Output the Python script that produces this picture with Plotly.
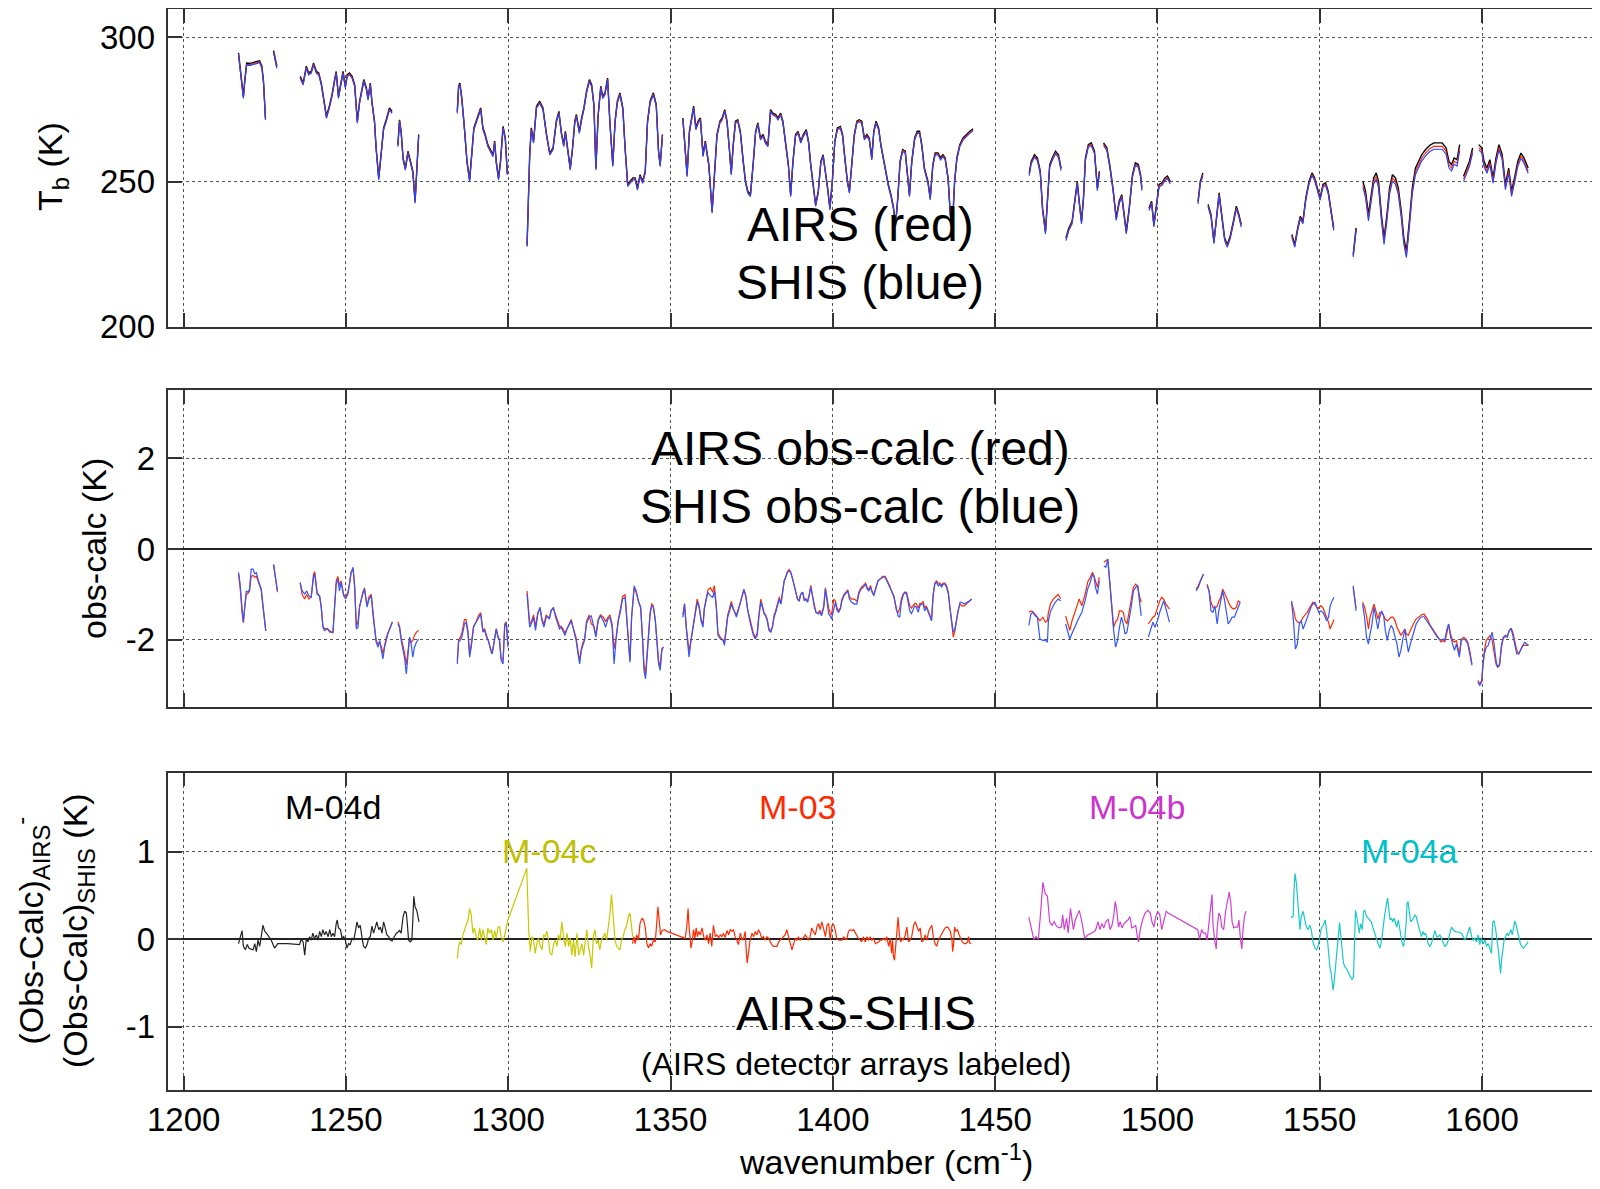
import plotly.graph_objects as go

# ---------------- DATA ----------------
tb_calc_pts = [
    (1216.9, 294.6), (1218.4, 279.6), (1218.8, 284.8), (1219.4, 291.1), (1220.5, 291.0), (1221.8, 291.5),
    (1223.4, 291.9), (1224.1, 290.0), (1224.6, 284.8), (1225.2, 272.1), None,
    (1227.7, 295.4), (1228.7, 290.0), None,
    (1235.9, 286.5), (1236.8, 284.2), (1237.8, 290.0), (1238.5, 287.7), (1239.3, 288.2), (1240.0, 291.1),
    (1240.9, 288.2), (1241.6, 287.7), (1242.4, 284.2), (1243.2, 279.0), (1244.0, 272.7), (1245.0, 276.7),
    (1245.7, 280.2), (1246.5, 285.4), (1247.0, 288.2), (1247.7, 279.6), (1248.6, 286.0), (1249.1, 288.2),
    (1249.8, 283.1), (1250.4, 287.1), (1251.1, 287.7), (1251.9, 286.5), (1252.7, 283.6), (1253.5, 271.0),
    (1254.2, 277.9), (1254.9, 282.5), (1255.5, 285.4), (1256.3, 282.5), (1256.8, 279.0), (1257.5, 284.2),
    (1258.0, 277.9), (1258.8, 271.0), (1259.3, 261.8), (1260.1, 251.4), (1260.9, 261.8), (1261.6, 268.7),
    (1262.4, 271.5), (1262.9, 273.3), (1263.4, 275.6), (1264.2, 274.4), None,
    (1266.0, 262.9), (1266.5, 271.5), (1267.0, 267.5), (1267.6, 258.3), (1268.3, 254.8), (1269.1, 260.6),
    (1269.9, 257.1), (1270.6, 253.7), (1271.3, 243.3), (1271.9, 254.8), (1272.4, 266.4), None,
    (1284.3, 274.4), (1284.7, 283.1), (1285.1, 284.2), (1285.7, 279.0), (1286.5, 268.7), (1287.3, 257.1),
    (1288.1, 250.8), (1288.8, 259.4), (1289.4, 268.7), (1290.1, 271.0), (1290.9, 273.3), (1291.5, 275.6),
    (1292.2, 268.7), (1292.9, 266.4), (1293.7, 262.9), (1294.6, 260.6), (1295.3, 259.4), (1295.8, 264.1),
    (1296.3, 257.1), (1297.0, 251.4), (1297.6, 257.1), (1298.4, 269.2), (1299.1, 265.2), (1299.7, 253.1), None,
    (1305.8, 228.3), (1306.0, 237.6), (1306.6, 259.4), (1307.1, 268.7), (1307.8, 264.1), (1308.7, 276.2),
    (1309.7, 277.9), (1310.7, 275.6), (1311.8, 266.4), (1312.8, 260.0), (1313.8, 261.8), (1314.8, 271.0),
    (1315.6, 274.4), (1316.4, 266.9), (1317.1, 262.9), (1317.6, 267.5), (1318.5, 260.6), (1319.1, 254.8),
    (1319.8, 261.8), (1320.5, 271.0), (1321.0, 273.3), (1321.9, 267.5), (1322.6, 272.1), (1323.3, 275.6),
    (1324.1, 281.3), (1325.0, 285.4), (1325.7, 283.6), (1326.4, 276.7), (1327.0, 254.8), (1327.7, 273.3),
    (1328.5, 283.1), (1329.1, 279.6), (1329.8, 280.8), (1330.6, 285.9), (1331.3, 271.0), (1332.2, 256.0),
    (1332.9, 271.0), (1333.6, 277.9), (1334.4, 280.8), (1335.3, 275.6), (1336.0, 261.8), (1336.8, 249.1),
    (1337.5, 250.2), (1338.4, 251.4), (1339.1, 251.4), (1339.8, 247.9), (1340.6, 252.5), (1341.4, 250.2),
    (1342.2, 253.7), (1342.9, 271.0), (1343.7, 277.9), (1344.7, 280.8), (1345.6, 276.7), (1346.3, 260.6),
    (1346.8, 256.0), (1347.5, 266.4), None,
    (1353.8, 272.1), (1354.5, 259.4), (1355.1, 252.5), (1355.8, 267.5), (1356.6, 272.7), (1357.1, 276.2),
    (1357.8, 268.7), (1358.5, 271.0), (1359.2, 272.1), (1360.0, 259.4), (1360.7, 264.1), (1361.8, 256.0),
    (1362.8, 239.9), (1363.5, 253.7), (1364.3, 266.4), (1365.2, 271.0), (1365.9, 272.1), (1366.7, 275.0),
    (1367.4, 271.0), (1368.1, 261.8), (1368.7, 253.1), (1369.3, 262.9), (1370.0, 271.0), (1370.7, 271.5),
    (1371.5, 267.5), (1372.4, 257.1), (1373.1, 250.2), (1373.8, 246.8), (1374.6, 245.6), (1375.5, 257.1),
    (1376.2, 267.5), (1376.9, 270.4), (1377.7, 265.2), (1378.5, 266.4), (1379.2, 264.1), (1380.0, 262.9),
    (1380.8, 275.0), (1381.5, 273.8), (1382.4, 273.3), (1383.1, 272.1), (1383.9, 273.8), (1384.6, 271.0),
    (1385.5, 262.9), (1386.3, 256.0), (1387.0, 245.6), (1387.7, 257.1), (1388.5, 266.4), (1389.3, 267.5),
    (1390.1, 264.1), (1390.9, 266.4), (1391.8, 268.1), (1392.5, 264.1), (1393.2, 256.0), (1394.0, 247.9),
    (1394.7, 242.2), (1395.5, 246.8), (1396.3, 257.1), (1397.0, 259.4), (1397.6, 254.8), (1398.4, 247.9),
    (1399.1, 241.0), (1399.9, 251.4), (1400.6, 264.1), (1401.4, 268.7), (1402.3, 269.2), (1403.0, 266.4),
    (1403.7, 258.3), (1404.5, 250.2), (1405.1, 246.8), (1405.8, 257.1), (1406.6, 266.4), (1407.4, 271.0),
    (1408.1, 271.5), (1408.9, 271.0), (1409.7, 265.2), (1410.5, 266.4), (1411.2, 265.2), (1412.0, 258.3),
    (1412.6, 267.5), (1413.3, 271.0), (1414.1, 268.7), (1414.8, 262.9), (1415.7, 257.1), (1416.4, 252.5),
    (1417.1, 249.1), (1417.9, 245.6), (1418.7, 241.0), (1419.3, 235.3), (1420.0, 244.5), (1420.7, 257.1),
    (1421.5, 261.2), (1422.3, 260.6), (1422.9, 253.7), (1423.6, 245.6), (1424.3, 257.1), (1425.2, 265.2),
    (1426.0, 267.5), (1426.7, 267.5), (1427.4, 262.9), (1428.2, 254.8), (1429.3, 250.2), (1430.0, 244.5),
    (1430.8, 256.0), (1431.5, 260.0), (1432.4, 260.0), (1433.2, 258.3), (1433.9, 259.4), (1434.6, 258.3),
    (1435.5, 251.4), (1436.2, 238.7), (1436.8, 234.1), (1437.5, 250.2), (1438.2, 258.3), (1439.1, 262.9),
    (1440.1, 265.2), (1441.1, 266.4), (1442.2, 267.5), (1443.2, 268.4), None,
    (1460.5, 253.1), (1461.1, 257.1), (1462.1, 259.4), (1463.0, 258.3), (1463.9, 253.7), (1464.6, 241.0),
    (1465.5, 232.9), (1466.1, 243.3), (1466.8, 256.0), (1467.6, 258.3), (1468.6, 260.6), (1469.5, 259.4),
    (1470.3, 254.8), None,
    (1471.8, 230.6), (1472.7, 234.1), (1473.7, 236.4), (1474.6, 243.3), (1475.3, 250.2), (1475.9, 243.3),
    (1476.6, 236.4), (1477.2, 244.5), (1477.8, 258.3), (1478.7, 262.9), (1479.6, 263.5), (1480.6, 260.6),
    (1481.5, 247.9), (1482.1, 253.7), None,
    (1483.4, 263.5), (1484.4, 261.8), (1485.3, 256.0), (1486.3, 247.9), (1487.3, 237.6), (1488.2, 243.3),
    (1489.0, 245.6), (1489.8, 237.6), (1490.4, 232.9), (1491.3, 241.0), (1492.3, 252.5), (1493.2, 256.6),
    (1494.1, 256.0), (1494.8, 252.5), (1495.2, 247.9), None,
    (1497.4, 241.0), (1498.2, 243.3), (1498.9, 235.3), (1499.7, 243.3), (1500.5, 249.1), (1501.4, 249.7),
    (1502.3, 251.4), (1503.1, 252.0), (1503.9, 250.2), None,
    (1512.5, 243.3), (1513.2, 250.2), (1514.0, 253.1), None,
    (1515.6, 242.2), (1516.5, 238.7), (1517.4, 229.5), (1518.3, 239.9), (1519.0, 246.2), (1519.8, 238.7),
    (1520.7, 230.6), (1521.5, 228.3), (1522.4, 231.2), (1523.4, 236.4), (1524.3, 241.6), (1525.1, 238.7),
    (1525.8, 235.3), None,
    (1541.4, 231.8), (1542.3, 228.3), (1543.2, 234.1), (1544.0, 238.1), (1544.8, 236.4), (1545.7, 244.5),
    (1546.7, 250.2), (1547.6, 253.1), (1548.4, 251.4), (1549.2, 247.9), (1550.1, 244.5), (1551.0, 249.1),
    (1551.8, 249.7), (1552.6, 246.8), (1553.4, 239.9), (1554.3, 234.1), None,
    (1560.3, 224.9), (1561.2, 234.1), None,
    (1563.3, 250.2), (1564.1, 246.8), (1565.0, 238.7), (1565.9, 245.6), (1566.6, 251.4), (1567.4, 253.1),
    (1568.1, 250.2), (1569.0, 238.7), (1569.8, 230.6), (1570.7, 238.7), (1571.5, 247.9), (1572.4, 252.5),
    (1573.3, 251.4), (1574.2, 247.9), (1575.1, 239.9), (1575.9, 230.6), (1576.7, 226.0), (1577.6, 236.4),
    (1578.5, 247.9), (1579.5, 254.8), (1580.5, 257.1), (1581.4, 259.4), (1582.6, 261.2), (1583.9, 262.7),
    (1585.2, 263.5), (1586.4, 263.5), (1587.7, 263.5), (1588.9, 261.8), (1589.8, 257.1), (1590.6, 256.0),
    (1591.4, 258.3), (1592.3, 257.7), (1593.1, 262.9), None,
    (1594.3, 252.0), (1595.2, 254.8), (1596.1, 257.1), (1597.1, 261.8), None,
    (1599.0, 262.9), (1599.9, 261.8), (1600.6, 257.1), (1601.5, 254.8), (1602.4, 257.7), (1603.4, 251.4),
    (1604.3, 258.3), (1605.2, 262.9), (1606.2, 259.4), (1607.2, 249.1), (1608.2, 254.8), (1609.1, 246.8),
    (1610.0, 251.4), (1611.0, 257.1), (1612.0, 260.0), (1612.9, 258.3), (1614.2, 254.8),
]
tb_airs_offset = [-0.4, -0.4, -0.4, -0.4, -0.4, -0.4, -0.4, -0.5, -0.5, -0.5, -0.5, -0.5, -0.5, -0.5, -0.5, -1.2, -1.0, -1.0]
tb_shis_offset = [-0.7, -0.7, -0.7, -0.7, -0.7, -0.7, -0.7, -0.9, -0.9, -0.9, -0.9, -0.9, -0.9, -0.9, -0.9, -2.2, -1.8, -1.8]

omc_pts = [
    (1216.9, -0.51, -0.55), (1217.4, -0.77, -0.85), (1218.0, -1.32, -1.40), (1218.4, -1.61, -1.62),
    (1218.8, -1.28, -1.30), (1219.3, -0.92, -1.00), (1219.8, -0.95, -0.98), (1220.3, -0.88, -0.92),
    (1220.8, -0.44, -0.60), (1221.4, -0.44, -0.58), (1221.9, -0.55, -0.62), (1222.4, -0.51, -0.60),
    (1222.9, -0.66, -0.70), (1223.4, -0.77, -0.80), (1223.9, -0.88, -0.90), (1224.4, -1.21, -1.25),
    (1224.9, -1.58, -1.60), (1225.3, -1.80, -1.80), None,
    (1227.7, -0.33, -0.35), (1228.2, -0.55, -0.58), (1228.9, -0.92, -0.95), None,
    (1235.9, -0.73, -0.75), (1236.5, -0.92, -1.00), (1237.3, -0.99, -1.10), (1237.9, -0.92, -1.00),
    (1238.6, -1.03, -1.10), (1239.3, -1.06, -1.05), (1240.0, -0.62, -0.55), (1240.4, -0.55, -0.50),
    (1241.1, -0.99, -0.95), (1241.9, -1.03, -1.05), (1242.4, -1.28, -1.30), (1242.9, -1.72, -1.70),
    (1243.4, -1.79, -1.75), (1244.3, -1.76, -1.75), (1245.0, -1.83, -1.80), (1246.0, -1.83, -1.85),
    (1246.5, -1.28, -1.25), (1247.0, -0.77, -0.70), (1247.5, -0.66, -0.60), (1248.0, -0.92, -0.80),
    (1248.5, -0.73, -0.70), (1249.3, -1.03, -1.00), (1249.9, -1.10, -1.05), (1250.6, -0.99, -0.95),
    (1251.1, -0.77, -0.75), (1251.6, -0.51, -0.50), (1252.2, -0.40, -0.45), (1252.7, -0.84, -0.85),
    (1253.2, -1.76, -1.70), (1253.7, -1.72, -1.60), (1254.2, -1.28, -1.25), (1254.7, -1.10, -1.10),
    (1255.2, -0.95, -0.95), (1255.7, -0.88, -0.85), (1256.5, -1.28, -1.25), (1257.1, -1.10, -1.05),
    (1257.8, -1.03, -1.00), (1258.3, -1.43, -1.40), (1258.8, -1.72, -1.70), (1259.3, -2.05, -2.00),
    (1259.9, -2.16, -2.10), (1260.4, -2.01, -2.05), (1260.9, -2.23, -2.15), (1261.4, -2.42, -2.30),
    (1261.9, -2.16, -2.10), (1262.4, -1.98, -1.95), (1262.9, -1.87, -1.85), (1263.7, -1.72, -1.70),
    (1264.3, -1.61, -1.60), None,
    (1266.0, -1.65, -1.60), (1266.5, -1.72, -1.70), (1267.0, -2.01, -1.95), (1267.6, -2.23, -2.15),
    (1268.1, -2.42, -2.30), (1268.6, -2.75, -2.55), (1269.1, -2.31, -2.25), (1269.6, -1.94, -1.95),
    (1270.1, -2.09, -2.05), (1270.6, -2.38, -2.01), (1271.1, -2.16, -1.90), (1271.7, -2.05, -1.83),
    (1272.4, -1.98, -1.79), None,
    (1284.3, -2.53, -2.45), (1284.7, -2.05, -2.00), (1285.2, -2.01, -1.95), (1285.7, -1.94, -1.85),
    (1286.5, -1.65, -1.55), (1287.0, -1.61, -1.55), (1287.6, -1.87, -1.80), (1288.1, -2.38, -2.30),
    (1288.6, -2.16, -2.10), (1289.3, -1.72, -1.70), (1290.1, -1.61, -1.60), (1290.9, -1.50, -1.45),
    (1291.5, -1.43, -1.40), (1292.2, -1.83, -1.80), (1292.7, -1.79, -1.75), (1293.3, -1.94, -1.90),
    (1293.9, -2.01, -2.00), (1294.6, -2.23, -2.20), (1295.0, -2.31, -2.30), (1295.6, -2.09, -2.05),
    (1296.3, -1.76, -1.75), (1296.8, -1.94, -1.90), (1297.3, -2.01, -2.00), (1297.8, -2.45, -2.40),
    (1298.4, -2.53, -2.45), (1298.9, -1.72, -1.65), (1299.4, -1.61, -1.60), (1299.9, -2.16, -2.10), None,
    (1305.8, -0.99, -0.92), (1306.2, -1.43, -1.40), (1306.6, -1.72, -1.65), (1307.1, -1.65, -1.60),
    (1307.8, -1.50, -1.45), (1308.4, -1.79, -1.70), (1309.1, -1.43, -1.40), (1309.8, -1.28, -1.30),
    (1310.4, -1.58, -1.55), (1311.0, -1.72, -1.65), (1311.7, -1.50, -1.45), (1312.2, -1.50, -1.50),
    (1312.7, -1.54, -1.50), (1313.2, -1.36, -1.35), (1313.9, -1.28, -1.30), (1314.6, -1.50, -1.45),
    (1315.1, -1.61, -1.55), (1315.8, -1.76, -1.70), (1316.3, -1.72, -1.70), (1316.8, -1.79, -1.75),
    (1317.5, -1.90, -1.85), (1318.1, -1.76, -1.75), (1318.7, -1.68, -1.65), (1319.4, -1.58, -1.55),
    (1319.9, -1.72, -1.70), (1320.4, -1.87, -1.85), (1320.9, -2.01, -1.95), (1321.5, -2.31, -2.25),
    (1322.0, -2.53, -2.45), (1322.5, -2.23, -2.20), (1323.0, -2.09, -2.05), (1323.5, -2.01, -2.00),
    (1324.1, -1.65, -1.60), (1324.9, -1.50, -1.45), (1325.6, -1.47, -1.65), (1326.4, -1.72, -1.70),
    (1327.0, -1.94, -1.90), (1327.7, -1.58, -1.55), (1328.4, -1.47, -1.45), (1329.3, -1.58, -1.50),
    (1330.0, -1.72, -1.60), (1330.7, -1.54, -1.50), (1331.3, -1.50, -1.45), (1332.0, -1.72, -1.65),
    (1332.6, -2.53, -2.20), (1333.2, -2.01, -1.95), (1333.9, -1.58, -1.55), (1334.6, -1.36, -1.30),
    (1335.2, -1.10, -1.05), (1336.0, -1.06, -1.00), (1336.5, -1.65, -1.60), (1337.0, -2.01, -2.00),
    (1337.5, -2.49, -2.45), (1338.0, -1.50, -1.50), (1338.8, -0.81, -0.85), (1339.4, -0.92, -0.95),
    (1340.1, -1.14, -1.15), (1340.8, -1.28, -1.30), (1341.4, -2.01, -2.00), (1341.8, -2.67, -2.55),
    (1342.3, -2.86, -2.75), (1342.7, -2.45, -2.40), (1343.2, -1.87, -1.85), (1343.7, -1.43, -1.40),
    (1344.2, -1.25, -1.20), (1344.7, -1.28, -1.25), (1345.3, -1.58, -1.55), (1345.8, -2.01, -2.00),
    (1346.3, -2.53, -2.45), (1346.8, -2.67, -2.60), (1347.3, -2.23, -2.20), (1347.8, -2.16, -2.15), None,
    (1353.8, -1.50, -1.45), (1354.3, -1.21, -1.20), (1354.9, -1.79, -1.75), (1355.3, -2.16, -2.05),
    (1355.7, -2.38, -2.25), (1356.3, -2.01, -2.00), (1356.9, -1.72, -1.70), (1357.6, -1.43, -1.40),
    (1358.2, -1.17, -1.10), (1358.8, -1.28, -1.25), (1359.4, -1.58, -1.55), (1360.0, -1.72, -1.65),
    (1360.4, -1.32, -1.30), (1361.5, -0.95, -0.90), (1362.3, -1.03, -0.85), (1363.0, -1.06, -0.95),
    (1363.5, -0.92, -0.80), (1364.1, -1.28, -1.25), (1364.6, -1.90, -1.85), (1365.4, -1.98, -1.95),
    (1366.2, -2.01, -2.00), (1366.6, -2.12, -2.05), (1367.1, -1.72, -1.70), (1367.6, -1.50, -1.45),
    (1368.2, -1.36, -1.30), (1368.7, -1.21, -1.15), (1369.3, -1.32, -1.30), (1369.8, -1.39, -1.40),
    (1370.3, -1.50, -1.45), (1370.8, -1.36, -1.35), (1371.4, -1.21, -1.20), (1372.0, -1.03, -1.05),
    (1372.6, -0.88, -0.90), (1373.2, -1.03, -1.05), (1373.8, -1.36, -1.35), (1374.5, -1.61, -1.55),
    (1375.0, -1.76, -1.70), (1375.5, -1.90, -1.85), (1376.1, -1.98, -1.95), (1376.7, -1.90, -1.85),
    (1377.2, -1.50, -1.45), (1377.8, -1.17, -1.10), (1378.3, -1.28, -1.25), (1378.8, -1.43, -1.40),
    (1379.3, -1.47, -1.45), (1379.8, -1.58, -1.55), (1380.3, -1.79, -1.75), (1380.9, -1.83, -1.80),
    (1381.4, -1.72, -1.70), (1381.9, -1.50, -1.45), (1382.4, -1.39, -1.35), (1382.9, -1.28, -1.20),
    (1383.5, -1.10, -1.05), (1384.0, -1.21, -1.20), (1384.5, -0.92, -0.90), (1385.0, -0.70, -0.70),
    (1385.5, -0.62, -0.60), (1386.0, -0.51, -0.50), (1386.5, -0.48, -0.45), (1387.0, -0.51, -0.50),
    (1387.6, -0.66, -0.65), (1388.1, -0.81, -0.80), (1388.6, -0.92, -0.90), (1389.1, -1.10, -1.10),
    (1389.6, -1.14, -1.15), (1390.1, -0.99, -1.00), (1390.7, -0.95, -0.95), (1391.2, -1.14, -1.10),
    (1391.7, -1.10, -1.10), (1392.2, -1.17, -1.15), (1392.7, -1.03, -1.00), (1393.2, -0.84, -0.80),
    (1393.8, -1.06, -1.05), (1394.3, -1.28, -1.25), (1394.8, -1.39, -1.40), (1395.5, -1.43, -1.40),
    (1396.1, -1.39, -1.35), (1396.5, -1.47, -1.45), (1397.2, -1.28, -1.25), (1397.7, -0.88, -0.85),
    (1398.2, -1.14, -1.10), (1398.7, -1.43, -1.30), (1399.2, -1.47, -1.40), (1399.6, -1.54, -1.45),
    (1400.3, -1.32, -1.10), (1400.8, -1.17, -1.15), (1401.3, -1.36, -1.30), (1401.8, -1.39, -1.35),
    (1402.3, -1.32, -1.30), (1402.8, -1.14, -1.10), (1403.4, -1.03, -1.00), (1404.1, -0.95, -0.95),
    (1404.6, -0.92, -0.90), (1405.1, -1.10, -1.05), (1405.8, -1.17, -1.10), (1406.7, -1.21, -1.10),
    (1407.4, -1.21, -1.15), (1408.0, -0.99, -0.95), (1408.7, -0.88, -0.85), (1409.4, -0.84, -0.80),
    (1410.1, -0.77, -0.75), (1410.6, -0.88, -0.85), (1411.1, -0.92, -0.90), (1411.6, -0.84, -0.80),
    (1412.1, -0.95, -0.95), (1412.6, -1.03, -1.00), (1413.2, -0.88, -0.85), (1413.9, -0.70, -0.70),
    (1414.6, -0.66, -0.65), (1415.4, -0.62, -0.60), (1416.1, -0.62, -0.60), (1416.8, -0.73, -0.70),
    (1417.5, -0.81, -0.80), (1418.2, -0.95, -0.95), (1418.8, -1.03, -1.05), (1419.6, -1.32, -1.35),
    (1420.1, -1.47, -1.40), (1420.6, -1.50, -1.30), (1421.1, -1.17, -1.10), (1421.6, -1.03, -1.00),
    (1422.1, -0.95, -0.95), (1422.7, -0.99, -0.95), (1423.2, -1.17, -1.10), (1423.7, -1.36, -1.25),
    (1424.2, -1.43, -1.30), (1424.7, -1.32, -1.25), (1425.2, -1.25, -1.20), (1425.7, -1.28, -1.20),
    (1426.3, -1.39, -1.30), (1426.8, -1.25, -1.20), (1427.3, -1.21, -1.20), (1427.8, -1.21, -1.15),
    (1428.3, -1.36, -1.30), (1428.8, -1.28, -1.25), (1429.4, -1.39, -1.35), (1429.9, -1.50, -1.45),
    (1430.4, -1.58, -1.55), (1430.9, -1.03, -1.00), (1431.4, -0.77, -0.75), (1431.9, -0.73, -0.70),
    (1432.5, -0.81, -0.75), (1433.0, -0.77, -0.75), (1433.5, -0.84, -0.80), (1434.0, -0.77, -0.75),
    (1434.5, -0.77, -0.75), (1435.0, -0.84, -0.80), (1435.6, -0.99, -0.95), (1436.1, -1.32, -1.30),
    (1436.6, -1.58, -1.60), (1437.1, -1.83, -1.94), (1437.6, -1.76, -1.80), (1438.1, -1.54, -1.55),
    (1438.6, -1.36, -1.35), (1439.2, -1.17, -1.20), (1439.7, -1.17, -1.25), (1440.5, -1.21, -1.25),
    (1441.2, -1.17, -1.20), (1442.0, -1.14, -1.15), (1442.8, -1.10, -1.10), None,
    (1460.4, -1.68, -1.39), (1461.0, -1.43, -1.36), (1461.6, -1.39, -1.38), (1462.3, -1.47, -1.43),
    (1463.0, -1.50, -1.50), (1463.8, -1.98, -1.58), (1464.7, -2.01, -1.50), (1465.5, -2.01, -1.61),
    (1466.1, -2.05, -1.58), (1466.4, -1.58, -1.40), (1467.1, -1.36, -1.20), (1467.9, -1.25, -1.10),
    (1468.5, -1.17, -1.06), (1469.4, -1.10, -1.00), (1470.2, -1.14, -1.10), None,
    (1471.7, -1.65, -1.47), (1472.3, -1.79, -1.65), (1473.0, -1.98, -1.79), (1473.6, -1.87, -1.60),
    (1474.4, -1.72, -1.40), (1475.2, -1.61, -1.25), (1475.9, -1.50, -1.10), (1476.7, -1.39, -1.25),
    (1477.7, -1.14, -1.00), (1478.5, -0.88, -0.73), (1479.3, -0.73, -0.62), (1480.0, -0.55, -0.51),
    (1480.5, -0.62, -0.60), (1480.9, -0.84, -0.70), (1481.5, -0.99, -0.84), (1482.1, -0.70, -0.62), None,
    (1483.5, -0.37, -0.29), (1484.1, -0.40, -0.26), (1484.7, -0.22, -0.22), (1485.2, -0.70, -0.62),
    (1485.9, -1.28, -1.28), (1486.5, -1.79, -1.72), (1487.1, -2.16, -1.60), (1487.7, -2.01, -1.55),
    (1488.3, -1.72, -1.36), (1488.9, -1.50, -1.36), (1489.5, -1.65, -1.40), (1490.0, -1.87, -1.58),
    (1490.6, -1.83, -1.65), (1491.1, -1.65, -1.43), (1491.9, -1.28, -1.10), (1492.6, -0.92, -0.84),
    (1493.3, -0.84, -0.77), (1493.9, -0.81, -0.81), (1494.5, -1.14, -1.05), (1495.0, -1.47, -1.17), None,
    (1497.2, -1.94, -1.65), (1498.0, -1.76, -1.55), (1498.6, -1.61, -1.50), (1499.2, -1.72, -1.47),
    (1500.0, -1.58, -1.28), (1500.7, -1.39, -1.14), (1501.3, -1.25, -1.06), (1501.9, -1.14, -1.10),
    (1502.5, -1.28, -1.20), (1503.1, -1.43, -1.25), (1503.7, -1.61, -1.32), None,
    (1511.9, -0.92, -0.88), (1512.6, -0.84, -0.80), (1513.3, -0.70, -0.68), (1514.2, -0.55, -0.55), None,
    (1515.3, -0.81, -0.77), (1515.9, -0.92, -0.92), (1516.5, -1.36, -1.17), (1517.1, -1.39, -1.28),
    (1517.7, -1.25, -1.30), (1518.4, -1.65, -1.26), (1518.9, -1.36, -1.15), (1519.5, -1.10, -1.06),
    (1520.1, -0.92, -0.88), (1520.7, -1.14, -0.98), (1521.3, -1.43, -1.10), (1521.8, -1.65, -1.15),
    (1522.4, -1.58, -1.25), (1523.0, -1.50, -1.30), (1523.7, -1.50, -1.32), (1524.3, -1.39, -1.28),
    (1524.9, -1.28, -1.14), (1525.5, -1.17, -1.17), None,
    (1541.3, -1.14, -1.17), (1541.9, -1.58, -1.32), (1542.5, -2.20, -1.54), (1543.1, -2.09, -1.60),
    (1543.7, -1.65, -1.62), (1544.3, -1.58, -1.58), (1544.9, -1.76, -1.50), (1545.6, -1.61, -1.43),
    (1546.2, -1.47, -1.39), (1546.8, -1.39, -1.30), (1547.3, -1.28, -1.25), (1547.9, -1.21, -1.17),
    (1548.5, -1.17, -1.22), (1549.1, -1.28, -1.28), (1549.7, -1.39, -1.30), (1550.3, -1.36, -1.25),
    (1550.9, -1.39, -1.28), (1551.5, -1.47, -1.39), (1552.1, -1.58, -1.54), (1552.7, -1.50, -1.61),
    (1553.2, -1.25, -1.76), (1553.8, -1.14, -1.65), (1554.4, -1.06, -1.55), None,
    (1560.3, -0.81, -0.85), (1560.8, -1.14, -1.17), (1561.2, -1.36, -1.30), None,
    (1563.2, -1.21, -1.17), (1563.8, -1.50, -1.28), (1564.4, -1.94, -1.47), (1565.0, -2.09, -1.76),
    (1565.5, -1.87, -1.50), (1566.1, -1.65, -1.36), (1566.7, -1.28, -1.21), (1567.3, -1.50, -1.36),
    (1567.9, -1.76, -1.54), (1568.5, -1.50, -1.39), (1569.1, -1.36, -1.39), (1569.7, -1.47, -1.47),
    (1570.2, -1.79, -1.54), (1570.8, -2.01, -1.58), (1571.4, -1.79, -1.54), (1572.0, -1.68, -1.50),
    (1572.6, -1.76, -1.50), (1573.2, -1.94, -1.58), (1573.8, -2.09, -1.72), (1574.4, -2.38, -1.83),
    (1575.0, -2.23, -1.90), (1575.6, -1.98, -1.83), (1576.2, -1.76, -1.76), (1576.7, -2.01, -1.87),
    (1577.3, -2.27, -1.90), (1577.9, -2.09, -1.79), (1578.5, -1.94, -1.68), (1579.1, -1.76, -1.61),
    (1579.7, -1.65, -1.54), (1580.3, -1.58, -1.50), (1580.9, -1.52, -1.47), (1581.5, -1.49, -1.44),
    (1582.1, -1.49, -1.43), (1582.6, -1.54, -1.47), (1583.2, -1.61, -1.54), (1583.8, -1.68, -1.65),
    (1584.4, -1.76, -1.72), (1585.0, -1.83, -1.79), (1585.6, -1.90, -1.87), (1586.2, -1.94, -1.94),
    (1586.8, -1.98, -2.01), (1587.4, -2.01, -2.05), (1588.0, -1.98, -2.01), (1588.5, -2.01, -2.05),
    (1589.1, -1.79, -1.87), (1589.7, -1.65, -1.65), (1590.3, -1.94, -1.87), (1590.9, -2.09, -2.01),
    (1591.5, -2.23, -2.05), (1592.1, -2.09, -2.01), (1592.7, -2.31, -2.23), (1593.0, -2.38, -2.31),
    (1593.6, -2.01, -1.98), (1594.4, -1.98, -1.94), (1595.0, -2.01, -1.98), (1595.6, -2.09, -2.05),
    (1596.2, -2.31, -2.23), (1596.9, -2.56, -2.53), None,
    (1598.7, -2.93, -2.89), (1599.3, -3.00, -2.97), (1599.9, -2.93, -2.89), (1600.2, -2.60, -2.60),
    (1600.7, -2.31, -2.23), (1601.3, -2.16, -2.01), (1601.9, -2.12, -1.94), (1602.5, -1.94, -1.90),
    (1603.1, -1.83, -2.01), (1603.7, -2.09, -2.31), (1604.3, -2.45, -2.53), (1604.8, -2.60, -2.60),
    (1605.4, -2.53, -2.56), (1606.0, -2.09, -2.16), (1606.6, -1.94, -1.94), (1607.2, -1.90, -1.94),
    (1607.8, -1.94, -1.90), (1608.4, -1.79, -1.79), (1609.0, -1.76, -1.74), (1609.6, -1.94, -1.87),
    (1610.2, -2.16, -2.09), (1610.7, -2.31, -2.23), (1611.3, -2.31, -2.31), (1611.9, -2.23, -2.20),
    (1612.5, -2.16, -2.12), (1613.1, -2.05, -2.12), (1613.7, -2.09, -2.12), (1614.3, -2.12, -2.12),
]

m04d_pts = [
    (1216.9, -0.05), (1217.4, 0.01), (1218.0, 0.10), (1218.4, -0.08), (1219.0, -0.12), (1219.6, -0.06),
    (1220.1, -0.10), (1220.6, -0.11), (1221.4, -0.12), (1221.9, -0.05), (1222.4, -0.14), (1222.9, -0.01),
    (1223.4, -0.08), (1223.9, 0.03), (1224.4, 0.16), (1225.0, 0.09), (1225.5, 0.07), (1227.0, -0.01),
    (1228.0, -0.10), (1229.0, -0.05), (1232.1, -0.05), (1235.7, -0.06), (1236.2, 0.00), (1236.8, -0.03),
    (1237.3, -0.18), (1237.8, 0.01), (1238.3, -0.03), (1238.8, 0.03), (1239.3, -0.01), (1239.8, 0.07),
    (1240.3, 0.01), (1240.9, 0.05), (1241.4, -0.01), (1241.9, 0.09), (1242.4, 0.03), (1242.9, 0.11),
    (1243.4, 0.05), (1243.9, 0.09), (1244.5, 0.03), (1245.0, 0.11), (1245.5, 0.03), (1246.0, 0.07),
    (1246.5, 0.03), (1247.0, 0.18), (1247.3, 0.22), (1247.7, 0.13), (1248.3, 0.11), (1248.8, 0.01),
    (1249.3, 0.03), (1249.8, -0.01), (1250.3, -0.10), (1250.8, -0.05), (1251.3, -0.06), (1251.9, 0.01),
    (1252.4, -0.01), (1252.9, 0.09), (1253.4, 0.20), (1253.9, 0.13), (1254.4, 0.16), (1254.9, 0.03),
    (1255.4, -0.08), (1256.0, -0.10), (1256.5, -0.06), (1257.0, 0.01), (1257.5, 0.03), (1258.0, 0.15),
    (1258.5, 0.07), (1259.0, 0.13), (1259.5, 0.20), (1260.1, 0.11), (1260.6, 0.14), (1261.1, 0.07),
    (1261.6, 0.20), (1262.1, 0.13), (1262.6, 0.05), (1263.2, 0.03), (1263.7, -0.01), (1264.2, -0.02),
    (1264.8, 0.02), (1265.5, 0.07), (1266.0, 0.08), (1266.5, 0.10), (1267.0, 0.07), (1267.6, 0.26),
    (1268.1, 0.32), (1268.6, 0.30), (1268.9, 0.18), (1269.3, -0.01), (1269.8, -0.03), (1270.3, -0.01),
    (1270.6, 0.22), (1270.9, 0.49), (1271.3, 0.37), (1271.8, 0.33), (1272.2, 0.26), (1272.5, 0.20),
]
m04c_pts = [
    (1284.3, -0.22), (1284.7, -0.08), (1285.1, -0.03), (1285.5, -0.06), (1286.0, 0.05), (1286.5, 0.11),
    (1287.1, 0.18), (1287.6, 0.22), (1288.1, 0.35), (1288.6, 0.28), (1289.1, 0.07), (1289.6, 0.13),
    (1290.1, 0.03), (1290.6, -0.01), (1291.2, 0.13), (1291.7, -0.01), (1292.2, 0.11), (1292.7, 0.03),
    (1293.2, -0.06), (1293.7, 0.13), (1294.2, 0.07), (1294.8, 0.11), (1295.3, -0.01), (1295.8, 0.10),
    (1296.3, 0.01), (1296.8, 0.13), (1297.3, 0.15), (1297.8, 0.03), (1298.4, -0.03), (1298.9, 0.05),
    (1299.4, 0.14), (1299.9, 0.22), (1305.7, 0.81), (1306.3, 0.11), (1306.8, -0.14), (1307.3, 0.03),
    (1307.8, -0.01), (1308.3, -0.16), (1308.8, -0.05), (1309.3, 0.01), (1309.9, -0.08), (1310.4, -0.12),
    (1310.9, 0.05), (1311.4, 0.03), (1311.9, 0.09), (1312.4, -0.01), (1312.9, -0.16), (1313.4, -0.18),
    (1314.0, -0.05), (1314.5, -0.01), (1315.0, -0.08), (1315.5, 0.05), (1316.0, -0.01), (1316.5, 0.20),
    (1317.1, 0.01), (1317.6, -0.08), (1318.1, 0.07), (1318.6, -0.08), (1319.1, 0.01), (1319.6, -0.18),
    (1320.1, -0.01), (1320.6, -0.20), (1321.2, 0.07), (1321.7, -0.18), (1322.2, -0.12), (1322.7, -0.05),
    (1323.2, -0.18), (1323.7, -0.01), (1324.2, 0.11), (1324.7, -0.08), (1325.3, -0.20), (1325.7, -0.33),
    (1326.2, 0.03), (1326.7, 0.11), (1327.2, -0.05), (1327.7, -0.01), (1328.2, -0.12), (1328.7, -0.01),
    (1329.3, 0.03), (1329.8, 0.07), (1330.3, -0.01), (1330.8, 0.14), (1331.3, 0.28), (1331.8, 0.51),
    (1332.4, 0.22), (1332.9, -0.01), (1333.4, -0.08), (1333.9, -0.10), (1334.4, -0.12), (1334.9, -0.01),
    (1335.4, 0.03), (1335.9, 0.11), (1336.5, 0.16), (1337.0, 0.26), (1337.5, 0.30), (1337.9, 0.18),
    (1338.3, 0.03),
]
m03_pts = [
    (1338.3, -0.05), (1338.7, 0.03), (1339.1, -0.05), (1339.6, 0.05), (1340.1, -0.01), (1340.6, 0.18),
    (1341.2, 0.24), (1341.7, 0.22), (1342.2, 0.14), (1342.7, -0.05), (1343.2, -0.10), (1343.7, -0.05),
    (1344.2, -0.08), (1344.7, -0.01), (1345.3, -0.03), (1345.7, 0.13), (1346.1, 0.37), (1346.5, 0.22),
    (1346.9, 0.05), (1347.4, 0.10), (1348.2, 0.11), (1348.9, 0.09), (1350.9, 0.06), (1353.0, 0.03),
    (1354.5, 0.01), (1355.0, 0.14), (1355.4, 0.35), (1355.7, 0.14), (1356.3, -0.10), (1356.7, -0.01),
    (1357.1, 0.11), (1357.5, 0.01), (1357.9, 0.13), (1358.3, 0.03), (1358.7, 0.09), (1359.2, 0.05),
    (1359.7, 0.13), (1360.2, 0.03), (1360.7, -0.01), (1361.2, 0.05), (1361.7, -0.05), (1362.2, 0.07),
    (1362.7, -0.08), (1363.2, 0.16), (1363.8, 0.03), (1364.3, 0.05), (1364.8, 0.02), (1365.3, 0.05),
    (1365.8, 0.03), (1366.3, 0.07), (1366.8, 0.02), (1367.4, 0.10), (1367.9, 0.05), (1368.4, 0.11),
    (1368.9, 0.09), (1369.4, 0.11), (1369.9, 0.03), (1370.4, -0.01), (1370.9, -0.06), (1371.5, 0.07),
    (1372.0, -0.01), (1372.5, 0.01), (1373.0, 0.09), (1373.3, -0.12), (1373.6, -0.27), (1374.0, -0.16),
    (1374.5, -0.01), (1375.1, 0.07), (1375.6, 0.03), (1376.1, 0.09), (1376.6, 0.05), (1377.1, 0.11),
    (1377.6, 0.07), (1378.1, 0.01), (1378.6, 0.03), (1379.1, -0.01), (1379.7, 0.03), (1380.2, 0.01),
    (1380.7, -0.03), (1381.2, -0.06), (1381.7, -0.08), (1382.2, -0.08), (1382.8, -0.08), (1383.3, -0.03),
    (1383.8, -0.01), (1384.3, 0.01), (1384.8, 0.03), (1385.3, 0.05), (1385.8, 0.11), (1386.3, 0.05),
    (1386.9, -0.05), (1387.4, -0.12), (1387.9, -0.05), (1388.4, 0.01), (1388.9, -0.01), (1389.4, 0.03),
    (1389.9, -0.01), (1390.5, 0.01), (1391.0, 0.02), (1391.5, 0.05), (1392.0, 0.01), (1392.5, -0.01),
    (1393.0, 0.03), (1393.5, 0.13), (1394.0, 0.09), (1394.6, 0.05), (1395.1, 0.14), (1395.6, 0.18),
    (1396.1, 0.11), (1396.6, 0.20), (1397.1, 0.13), (1397.7, 0.03), (1398.2, 0.16), (1398.7, 0.18),
    (1399.2, -0.01), (1399.7, 0.16), (1400.2, 0.17), (1400.7, 0.11), (1401.2, 0.01), (1401.8, -0.01),
    (1402.3, -0.01), (1402.8, -0.01), (1403.3, 0.03), (1403.8, 0.00), (1404.3, 0.00), (1404.8, 0.09),
    (1405.3, 0.11), (1405.9, 0.10), (1406.4, 0.11), (1406.9, 0.07), (1407.4, 0.03), (1407.9, 0.01),
    (1408.4, -0.01), (1408.9, -0.03), (1409.4, 0.03), (1410.0, -0.03), (1410.5, 0.03), (1411.0, -0.01),
    (1411.5, 0.03), (1412.0, -0.01), (1412.5, 0.01), (1413.1, -0.05), (1413.6, -0.04), (1414.1, -0.03),
    (1414.6, -0.01), (1415.1, -0.01), (1415.6, 0.01), (1416.1, -0.01), (1416.6, 0.03), (1417.2, -0.08),
    (1417.7, 0.01), (1418.1, -0.16), (1418.4, -0.01), (1418.7, -0.20), (1419.0, -0.24), (1419.4, -0.05),
    (1419.7, 0.14), (1420.1, 0.25), (1420.5, 0.05), (1420.9, -0.03), (1421.4, 0.01), (1421.8, -0.01),
    (1422.3, 0.05), (1422.8, 0.14), (1423.3, -0.03), (1423.8, -0.01), (1424.3, 0.03), (1424.9, 0.16),
    (1425.4, 0.20), (1425.9, 0.14), (1426.4, 0.09), (1426.9, 0.13), (1427.4, -0.03), (1427.9, -0.01),
    (1428.4, 0.05), (1429.0, -0.01), (1429.5, 0.09), (1430.0, 0.13), (1430.5, 0.16), (1431.0, 0.01),
    (1431.5, -0.05), (1432.0, -0.08), (1432.5, -0.01), (1433.1, 0.03), (1433.6, 0.07), (1434.1, 0.10),
    (1434.6, 0.13), (1435.1, 0.14), (1435.6, 0.13), (1436.2, 0.09), (1436.7, -0.01), (1436.9, -0.14),
    (1437.2, -0.05), (1437.5, 0.14), (1437.9, 0.09), (1438.4, 0.11), (1438.9, 0.05), (1439.4, 0.01),
    (1439.9, -0.03), (1440.5, -0.05), (1441.0, -0.05), (1441.5, -0.03), (1441.8, 0.03), (1442.1, -0.04),
    (1442.6, -0.05),
]
m04b_pts = [
    (1460.4, 0.25), (1461.1, 0.14), (1461.9, 0.00), (1462.6, 0.03), (1463.3, 0.00), (1464.0, 0.30),
    (1464.7, 0.65), (1465.4, 0.52), (1466.1, 0.49), (1466.8, 0.20), (1467.5, 0.16), (1468.2, 0.20),
    (1468.9, 0.15), (1469.7, 0.13), (1470.4, 0.14), (1470.8, 0.28), (1471.3, 0.11), (1472.0, 0.24),
    (1472.5, 0.07), (1473.2, 0.35), (1473.6, 0.26), (1474.1, 0.11), (1474.7, 0.22), (1475.3, 0.28),
    (1475.9, 0.33), (1476.5, 0.24), (1477.0, 0.11), (1477.6, 0.01), (1478.5, 0.05), (1479.7, 0.07),
    (1480.9, 0.10), (1481.7, 0.20), (1482.3, 0.11), (1482.9, 0.18), (1483.5, 0.13), (1484.1, 0.20),
    (1484.8, 0.23), (1485.4, 0.11), (1486.0, 0.16), (1486.5, 0.26), (1487.0, 0.43), (1487.4, 0.35),
    (1488.0, 0.14), (1488.5, 0.20), (1489.1, 0.13), (1489.7, 0.18), (1490.3, 0.20), (1490.9, 0.22),
    (1491.5, 0.26), (1492.1, 0.13), (1492.7, 0.14), (1493.3, 0.16), (1493.9, 0.01), (1494.2, -0.03),
    (1494.7, 0.11), (1495.4, 0.22), (1496.2, 0.30), (1497.0, 0.33), (1497.8, 0.30), (1498.3, 0.20),
    (1498.9, 0.14), (1499.5, 0.26), (1500.1, 0.32), (1500.7, 0.28), (1501.3, 0.11), (1502.0, 0.22),
    (1502.7, 0.32), (1503.3, 0.30), (1512.4, 0.11), (1513.0, 0.00), (1513.6, 0.11), (1514.2, 0.07),
    (1514.8, 0.07), (1515.3, -0.01), (1515.9, 0.20), (1516.4, 0.37), (1516.8, 0.51), (1517.1, 0.18),
    (1517.6, -0.01), (1518.1, -0.11), (1518.4, 0.13), (1518.9, 0.30), (1519.4, 0.26), (1519.8, 0.14),
    (1520.4, 0.11), (1521.0, 0.32), (1521.6, 0.45), (1522.1, 0.54), (1522.6, 0.41), (1523.0, 0.20),
    (1523.5, 0.13), (1524.1, 0.14), (1524.7, 0.14), (1525.1, 0.22), (1525.6, -0.01), (1526.0, -0.11),
    (1526.4, 0.13), (1526.9, 0.28), (1527.3, 0.32),
]
m04a_pts = [
    (1541.1, 0.25), (1541.8, 0.26), (1542.1, 0.60), (1542.4, 0.75), (1542.8, 0.64), (1543.1, 0.49),
    (1543.5, 0.30), (1543.9, 0.11), (1544.3, 0.26), (1544.9, 0.32), (1545.4, 0.22), (1545.9, 0.14),
    (1546.4, 0.11), (1546.9, 0.16), (1547.4, 0.11), (1547.9, -0.03), (1548.5, -0.10), (1549.0, -0.12),
    (1549.5, -0.08), (1550.0, 0.05), (1550.5, 0.13), (1551.1, 0.16), (1551.7, 0.22), (1552.2, 0.07),
    (1552.6, -0.12), (1553.1, -0.31), (1553.6, -0.41), (1554.1, -0.58), (1554.4, -0.50), (1554.8, -0.35),
    (1555.2, -0.12), (1555.7, 0.07), (1556.1, 0.19), (1556.5, 0.03), (1556.9, -0.12), (1557.3, -0.27),
    (1557.7, -0.31), (1558.5, -0.35), (1559.2, -0.41), (1559.9, -0.46), (1560.4, -0.43), (1560.7, 0.03),
    (1561.0, 0.33), (1561.4, 0.26), (1561.8, 0.13), (1562.2, 0.07), (1562.6, 0.18), (1563.1, 0.11),
    (1563.5, 0.32), (1563.9, 0.33), (1564.4, 0.26), (1564.9, 0.24), (1565.4, 0.23), (1565.9, 0.20),
    (1566.4, 0.13), (1566.9, 0.07), (1567.5, -0.01), (1568.0, -0.05), (1568.5, -0.10), (1568.8, -0.06),
    (1569.2, 0.03), (1569.6, 0.18), (1570.0, 0.28), (1570.5, 0.39), (1570.9, 0.47), (1571.3, 0.33),
    (1571.7, 0.22), (1572.1, 0.24), (1572.5, 0.20), (1572.9, 0.24), (1573.3, 0.18), (1573.7, 0.14),
    (1574.2, 0.22), (1574.6, 0.11), (1575.0, 0.01), (1575.4, -0.05), (1575.8, -0.08), (1576.2, 0.01),
    (1576.6, 0.18), (1576.9, 0.41), (1577.2, 0.43), (1577.6, 0.33), (1578.0, 0.20), (1578.5, 0.22),
    (1578.9, 0.24), (1579.3, 0.28), (1579.7, 0.26), (1580.1, 0.20), (1580.5, 0.13), (1580.9, 0.07),
    (1581.3, 0.03), (1581.8, 0.09), (1582.2, 0.05), (1582.6, 0.07), (1583.0, -0.01), (1583.4, -0.05),
    (1583.9, -0.08), (1584.4, -0.05), (1584.9, 0.02), (1585.5, 0.10), (1586.0, 0.03), (1586.5, 0.03),
    (1587.0, 0.05), (1587.5, 0.00), (1588.0, -0.03), (1588.5, -0.08), (1589.1, -0.06), (1589.6, -0.01),
    (1590.1, 0.07), (1590.6, 0.14), (1591.1, 0.11), (1591.6, 0.09), (1592.7, 0.08), (1593.7, 0.07),
    (1594.2, 0.03), (1594.7, -0.01), (1595.2, 0.03), (1595.7, 0.09), (1596.2, 0.14), (1596.8, 0.03),
    (1597.3, -0.01), (1597.8, 0.01), (1598.3, -0.03), (1598.8, 0.05), (1599.3, -0.06), (1599.8, 0.01),
    (1600.4, -0.05), (1600.9, -0.01), (1601.4, -0.08), (1601.9, -0.05), (1602.4, -0.12), (1602.9, -0.16),
    (1603.3, 0.20), (1603.7, 0.21), (1604.2, 0.11), (1604.6, -0.05), (1605.0, -0.12), (1605.4, -0.27),
    (1605.7, -0.39), (1606.0, -0.24), (1606.4, -0.08), (1606.8, -0.01), (1607.2, 0.03), (1607.7, 0.07),
    (1608.1, 0.04), (1608.5, 0.08), (1608.9, 0.11), (1609.3, 0.05), (1609.7, 0.16), (1610.1, 0.21),
    (1610.5, 0.16), (1610.9, 0.09), (1611.4, 0.01), (1611.8, -0.05), (1612.2, -0.08), (1612.7, -0.10),
    (1613.2, -0.08), (1613.7, -0.05), (1614.2, -0.03),
]

x_ticks = [1200, 1250, 1300, 1350, 1400, 1450, 1500, 1550, 1600]
tb_ticks = [200, 250, 300]
omc_ticks = [-2, 0, 2]
omc_ticktext = ["-2", "0", "2"]
diff_ticks = [-1, 0, 1]
diff_ticktext = ["-1", "0", "1"]

# ---------------- helpers ----------------
def split_xy(pts):
    xs, ys = [], []
    for p in pts:
        if p is None:
            xs.append(None); ys.append(None)
        else:
            xs.append(p[0]); ys.append(p[1])
    return xs, ys

def shifted(pts, offsets):
    xs, ys, k = [], [], 0
    for p in pts:
        if p is None:
            xs.append(None); ys.append(None); k += 1
        else:
            xs.append(p[0]); ys.append(p[1] + offsets[k])
    return xs, ys

FONT = "Liberation Sans, Arial, Helvetica, sans-serif"
# page body has an 8 px default margin: figure is sized so the page fits the window
OFF = 8
W, H = 1600 - 2 * OFF, 1189 - 2 * OFF

fig = go.Figure()

tx, ty = split_xy(tb_calc_pts)
fig.add_trace(go.Scatter(x=tx, y=ty, mode="lines", line=dict(color="#000000", width=1.4),
                         connectgaps=False, xaxis="x", yaxis="y", showlegend=False))
ax_, ay_ = shifted(tb_calc_pts, tb_airs_offset)
fig.add_trace(go.Scatter(x=ax_, y=ay_, mode="lines", line=dict(color="#ff2000", width=1.1),
                         connectgaps=False, xaxis="x", yaxis="y", showlegend=False))
sx_, sy_ = shifted(tb_calc_pts, tb_shis_offset)
fig.add_trace(go.Scatter(x=sx_, y=sy_, mode="lines", line=dict(color="#2244ff", width=1.1),
                         connectgaps=False, xaxis="x", yaxis="y", showlegend=False))

ox = [None if p is None else p[0] for p in omc_pts]
o_shis = [None if p is None else p[1] for p in omc_pts]
o_airs = [None if p is None else p[2] for p in omc_pts]
fig.add_trace(go.Scatter(x=ox, y=o_airs, mode="lines", line=dict(color="#ff2a00", width=1.2),
                         connectgaps=False, xaxis="x2", yaxis="y2", showlegend=False))
fig.add_trace(go.Scatter(x=ox, y=o_shis, mode="lines", line=dict(color="#3355ff", width=1.2),
                         connectgaps=False, xaxis="x2", yaxis="y2", showlegend=False))

for pts, col in [(m04d_pts, "#222222"), (m04c_pts, "#c8c800"), (m03_pts, "#ff2a00"),
                 (m04b_pts, "#d040d0"), (m04a_pts, "#18c8c8")]:
    bx, by = split_xy(pts)
    fig.add_trace(go.Scatter(x=bx, y=by, mode="lines", line=dict(color=col, width=1.2),
                             xaxis="x3", yaxis="y3", showlegend=False))

def fx(px):
    return (px - OFF) / W

def fy(py):
    return 1 - (py - OFF) / H

xdom = [fx(168.4), 1.0]
xrange = [1195.3, 1195.3 + (1600 - OFF - 168.4) / 3.246]
common_x = dict(range=xrange, domain=xdom, tickvals=x_ticks, showgrid=True, gridcolor="#555555",
                griddash="dot", gridwidth=1, showline=True, linecolor="#333333", linewidth=1.5,
                mirror="ticks", ticks="inside", ticklen=14, tickwidth=1.5, tickcolor="#333333",
                zeroline=False, automargin=False, tickfont=dict(family=FONT, size=33, color="#000"))
common_y = dict(showgrid=True, gridcolor="#555555", griddash="dot", gridwidth=1, showline=True,
                linecolor="#333333", linewidth=1.5, ticks="inside", ticklen=14, tickwidth=1.5,
                tickcolor="#333333", tickfont=dict(family=FONT, size=33, color="#000"),
                automargin=False, ticklabelstandoff=5)

fig.update_layout(
    width=W, height=H, margin=dict(l=0, r=0, t=0, b=0, pad=0, autoexpand=False),
    paper_bgcolor="white", plot_bgcolor="white",
    xaxis=dict(common_x, anchor="y", showticklabels=False),
    xaxis2=dict(common_x, anchor="y2", showticklabels=False, matches="x"),
    xaxis3=dict(common_x, anchor="y3", showticklabels=True, matches="x"),
    yaxis=dict(common_y, domain=[fy(326.5), min(1.0, fy(9.0))], range=[200, 309.8], tickvals=tb_ticks,
               anchor="x", zeroline=False),
    yaxis2=dict(common_y, domain=[fy(707.1), fy(389.8)], range=[-3.48, 3.51], tickvals=omc_ticks,
                ticktext=omc_ticktext, anchor="x2", zeroline=True, zerolinecolor="#222222",
                zerolinewidth=1.5),
    yaxis3=dict(common_y, domain=[fy(1089.8), fy(772.5)], range=[-1.718, 1.904], tickvals=diff_ticks,
                ticktext=diff_ticktext, anchor="x3", zeroline=True, zerolinecolor="#222222",
                zerolinewidth=1.5),
)

def ann(text, px, py, size, color="#000000", angle=0):
    fig.add_annotation(text=text, x=fx(px), y=fy(py), xref="paper", yref="paper",
                       xanchor="center", yanchor="middle", showarrow=False, textangle=angle,
                       font=dict(family=FONT, size=size, color=color))

ann("AIRS (red)", 860, 224, 48)
ann("SHIS (blue)", 860, 282, 48)
ann("AIRS obs-calc (red)", 860, 449, 48)
ann("SHIS obs-calc (blue)", 860, 506, 48)
ann("M-04d", 333, 807, 34, "#000000")
ann("M-04c", 549, 851, 34, "#c0c000")
ann("M-03", 797, 807, 34, "#ff2a00")
ann("M-04b", 1137, 807, 34, "#cc33cc")
ann("M-04a", 1409, 851, 34, "#00c0c8")
ann("AIRS-SHIS", 856, 1013, 48)
ann("(AIRS detector arrays labeled)", 856, 1064, 32)
ann("wavenumber (cm<sup>-1</sup>)", 886, 1159, 34)
ann("T<sub>b</sub> (K)", 52, 167, 34, angle=-90)
ann("obs-calc (K)", 94, 549, 34, angle=-90)
ann("(Obs-Calc)<sub>AIRS</sub><sup>-</sup><br>(Obs-Calc)<sub>SHIS</sub> (K)", 53, 931, 34, angle=-90)

fig.write_html("out.html")
